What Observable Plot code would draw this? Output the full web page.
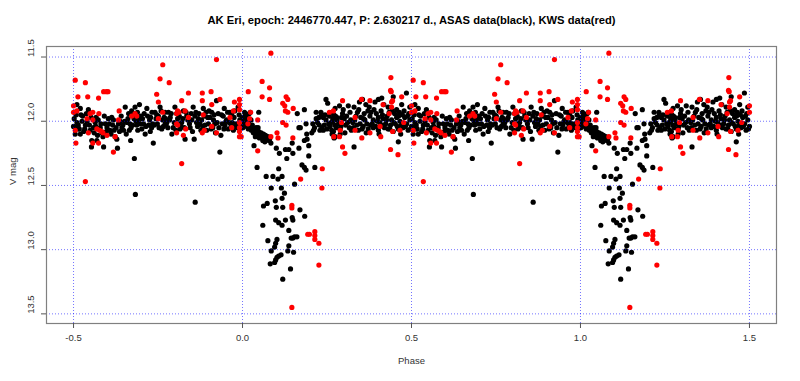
<!DOCTYPE html>
<html><head><meta charset="utf-8">
<script src="https://cdn.jsdelivr.net/npm/d3@7"></script>
<script src="https://cdn.jsdelivr.net/npm/@observablehq/plot@0.6"></script>
<style>
html,body{margin:0;padding:0;background:#fff;}
#chart{width:800px;height:381px;}
</style></head><body><div id="chart"></div>
<script>
const title = "AK Eri, epoch: 2446770.447, P: 2.630217 d., ASAS data(black), KWS data(red)";
const xLabel = "Phase";
const yLabel = "V mag";
const xTicks = [-0.5, 0, 0.5, 1, 1.5];
const yTicks = [11.5, 12, 12.5, 13, 13.5];

// ASAS (black): [phase, V mag], phase in [0,1)
const asas = [
[0.000,11.97],[0.003,12.01],[0.005,11.99],[0.007,12.03],[0.009,11.95],[0.011,12.00],[0.013,12.04],[0.015,11.98],[0.018,12.02],[0.020,11.94],[0.022,12.05],[0.023,11.93],[0.026,12.07],[0.029,12.03],[0.032,12.09],[0.034,12.19],[0.036,12.08],[0.040,12.05],[0.043,12.36],[0.044,12.10],[0.048,12.08],[0.048,11.93],[0.052,12.11],[0.055,12.09],[0.058,12.12],[0.060,12.15],[0.064,12.13],[0.068,12.11],[0.071,12.14],[0.075,12.12],[0.078,12.15],[0.080,12.14],[0.084,12.17],
[0.001,12.05],[0.006,11.93],[0.012,11.96],[0.017,12.06],[0.025,11.99],[0.030,12.06],[0.038,12.12],[0.046,12.05],[0.050,12.13],[0.062,12.10],[0.066,12.16],
[0.070,12.43],[0.085,12.52],[0.090,12.43],[0.100,12.21],[0.105,12.45],[0.107,12.37],[0.109,12.25],[0.115,12.52],[0.117,12.43],[0.127,12.22],[0.131,12.29],[0.137,12.22],[0.147,12.17],[0.149,12.25],[0.154,12.49],[0.124,12.56],[0.117,12.60],[0.097,12.62],[0.073,12.64],[0.062,12.66],[0.100,12.67],[0.119,12.67],[0.170,12.69],[0.184,12.74],[0.147,12.75],[0.149,12.77],[0.060,12.81],[0.098,12.77],[0.107,12.79],[0.127,12.77],[0.117,12.81],[0.137,12.85],[0.149,12.91],[0.154,12.90],[0.161,12.90],[0.144,12.91],[0.075,12.93],[0.098,12.95],[0.102,12.92],[0.095,12.98],[0.085,13.01],[0.137,12.97],[0.134,13.01],[0.151,13.02],[0.102,13.06],[0.107,13.05],[0.114,13.04],[0.098,13.08],[0.082,13.11],[0.095,13.10],[0.142,13.15],[0.119,13.23],
[0.162,11.94],[0.167,12.05],[0.171,12.05],[0.167,12.21],[0.176,12.34],[0.183,12.36],[0.188,12.38],[0.183,12.15],[0.191,12.14],[0.190,12.10],[0.188,12.02],[0.183,11.91],[0.196,12.27],[0.196,12.19],[0.214,12.36],[0.210,12.07],[0.213,12.05],[0.208,12.02],[0.218,11.98],[0.226,11.97],[0.232,11.96],[0.247,11.83],[0.252,11.86],[0.218,11.93],[0.222,12.01],[0.227,12.03],[0.235,12.05],[0.239,12.07],[0.242,12.03],[0.247,11.99],[0.255,12.02],[0.262,12.01],[0.267,11.98],[0.273,12.03],[0.239,11.97],[0.257,11.96],[0.269,12.08],[0.275,11.96],[0.232,11.93],
[0.244,11.95],[0.250,12.06],[0.259,12.04],[0.265,12.10],[0.277,12.05],[0.229,12.07],[0.205,12.09],
[0.264,11.93],[0.274,11.90],[0.287,11.88],[0.298,11.91],[0.313,11.88],[0.330,11.89],[0.346,11.85],[0.355,11.83],[0.365,11.87],[0.375,11.89],[0.392,11.85],[0.402,11.83],[0.412,11.82],[0.418,11.87],[0.431,11.89],[0.446,11.81],[0.456,11.91],[0.471,11.87],[0.485,11.78],[0.495,11.89],[0.510,11.87],[0.520,11.90],
[0.267,12.00],[0.279,11.97],[0.293,11.97],[0.308,11.96],[0.320,11.99],[0.336,11.96],[0.350,11.97],[0.362,11.99],[0.377,11.96],[0.387,11.99],[0.402,11.97],[0.416,11.98],[0.428,11.96],[0.441,11.99],[0.456,11.97],[0.466,12.00],[0.480,11.97],[0.495,11.99],[0.510,12.01],
[0.264,12.07],[0.274,12.12],[0.289,12.06],[0.303,12.09],[0.316,12.05],[0.328,12.05],[0.343,12.07],[0.357,12.04],[0.372,12.06],[0.387,12.05],[0.402,12.07],[0.416,12.03],[0.431,12.06],[0.446,12.08],[0.461,12.06],[0.475,12.05],[0.490,12.07],[0.505,12.10],[0.517,12.06],
[0.330,12.20],[0.461,12.16],[0.289,12.10],[0.271,12.13],
[0.270,11.95],[0.284,12.02],[0.296,11.94],[0.305,12.03],[0.318,11.93],[0.326,12.01],[0.340,11.93],[0.348,12.02],[0.360,11.94],[0.368,12.02],[0.380,11.93],[0.384,12.02],[0.396,11.94],[0.406,12.01],[0.410,11.92],[0.424,12.02],[0.434,11.93],[0.438,12.03],[0.450,11.94],[0.452,12.02],[0.464,11.93],[0.470,12.03],[0.478,11.92],[0.486,12.02],[0.492,11.94],[0.500,12.04],[0.504,11.93],[0.514,12.03],[0.522,11.95],
[0.280,11.99],[0.291,12.04],[0.301,11.98],[0.311,12.01],[0.322,12.07],[0.332,11.99],[0.338,12.03],[0.344,11.91],[0.354,12.06],[0.358,11.98],[0.366,12.09],[0.371,11.92],[0.379,12.03],[0.389,11.91],[0.394,12.04],[0.399,12.00],[0.404,12.10],[0.414,11.95],[0.420,12.05],[0.426,11.99],[0.436,12.06],[0.443,11.92],[0.448,12.01],[0.458,12.04],[0.462,11.96],[0.468,12.10],[0.473,11.95],[0.482,12.04],[0.488,11.96],[0.497,12.06],[0.502,11.98],[0.508,11.95],[0.512,12.04],
[0.515,12.06],[0.525,12.00],[0.535,12.03],[0.544,11.91],[0.549,12.07],[0.554,12.15],[0.564,12.01],[0.571,12.11],[0.579,12.05],[0.589,12.20],[0.594,12.02],[0.603,11.98],[0.608,12.07],[0.616,12.03],[0.623,12.12],[0.630,12.21],[0.633,12.02],[0.643,12.05],[0.653,11.89],[0.658,12.01],[0.665,12.07],[0.669,12.15],[0.672,11.92],[0.679,11.98],[0.680,12.29],[0.687,12.03],[0.695,11.87],[0.699,11.96],[0.707,12.02],[0.712,12.10],[0.717,11.90],[0.725,11.99],[0.731,12.05],[0.736,12.17],[0.741,11.93],[0.748,12.02],[0.756,11.89],[0.761,12.06],[0.768,11.97],[0.774,12.02],
[0.520,12.10],[0.530,12.08],[0.540,12.00],[0.559,12.05],[0.567,11.97],[0.584,12.09],[0.599,12.05],[0.613,11.97],[0.620,12.07],[0.638,12.00],[0.648,12.07],[0.663,11.94],[0.675,12.03],[0.682,11.89],[0.692,11.99],[0.702,12.06],[0.709,11.94],[0.722,12.03],[0.728,11.97],[0.734,12.02],[0.744,11.98],[0.751,11.96],[0.764,11.99],[0.771,11.93],[0.667,12.02],[0.690,12.07],[0.628,12.14],[0.569,12.15],[0.553,12.20],
[0.527,11.96],[0.533,12.06],[0.538,11.94],[0.547,12.03],[0.552,11.97],[0.561,12.09],[0.566,12.04],[0.573,11.99],[0.581,12.02],[0.587,12.12],[0.591,11.96],[0.597,12.08],[0.606,12.02],[0.611,12.10],[0.618,11.99],[0.626,12.05],[0.636,12.08],[0.641,11.96],[0.646,12.03],[0.651,12.00],[0.656,12.10],[0.661,11.98],[0.670,12.05],[0.677,11.94],[0.685,12.00],[0.689,11.93],[0.697,12.02],[0.704,11.98],[0.714,12.04],[0.719,11.96],[0.727,12.08],[0.732,11.93],[0.739,12.03],[0.746,11.95],[0.753,12.05],[0.759,11.92],[0.766,12.04],[0.772,11.98],
[0.771,12.02],[0.781,11.93],[0.791,12.10],[0.800,11.89],[0.808,11.98],[0.815,12.06],[0.825,11.92],[0.830,12.14],[0.838,11.99],[0.845,12.05],[0.854,11.89],[0.857,12.14],[0.864,12.01],[0.871,11.94],[0.877,12.07],[0.884,11.90],[0.889,12.03],[0.897,11.97],[0.901,11.92],[0.907,12.06],[0.914,11.99],[0.920,12.09],[0.923,11.84],[0.928,11.94],[0.933,12.24],[0.936,12.11],[0.940,12.02],[0.946,11.90],[0.953,11.99],[0.958,12.06],[0.963,11.93],[0.970,12.01],[0.975,11.97],[0.979,12.04],[0.987,11.89],[0.992,11.99],[0.997,12.05],
[0.776,12.01],[0.786,11.97],[0.795,12.05],[0.805,11.94],[0.820,12.01],[0.835,11.96],[0.850,11.99],[0.859,11.96],[0.874,12.02],[0.887,11.96],[0.894,12.07],[0.909,11.93],[0.918,12.02],[0.930,12.05],[0.943,11.96],[0.956,11.93],[0.966,12.03],[0.982,12.02],[0.810,12.02],[0.879,11.99],[0.948,12.03],
[0.779,12.05],[0.784,11.99],[0.789,11.94],[0.798,12.01],[0.803,12.07],[0.813,11.96],[0.818,12.04],[0.823,11.98],[0.828,12.05],[0.833,11.93],[0.843,12.02],[0.848,11.94],[0.852,12.08],[0.862,11.93],[0.867,12.04],[0.869,11.98],[0.882,12.04],[0.892,11.93],[0.899,12.02],[0.904,11.97],[0.912,12.05],[0.916,11.95],[0.925,12.01],[0.938,11.95],[0.945,12.06],[0.951,12.00],[0.961,12.01],[0.968,11.95],[0.973,12.07],[0.977,11.92],[0.985,12.05],[0.990,11.95],[0.995,12.02],
[0.683,12.57],[0.860,12.63]
];

// KWS (red): [phase, V mag]
const kws = [
[0.084,11.47],[0.058,11.69],[0.080,11.74],[0.017,11.77],[0.058,11.81],[0.080,11.83],[0.129,11.81],[0.134,11.83],[0.119,11.86],[0.125,11.88],[0.127,11.92],[0.134,11.93],[0.150,11.90],[0.991,11.83],[0.991,11.87],[0.991,11.91],[0.024,11.93],[0.021,11.98],[0.045,11.99],[0.016,12.02],[0.991,12.01],[0.991,12.05],[0.991,12.08],[0.991,12.12],[0.996,12.12],[0.119,12.01],[0.129,12.03],[0.102,12.09],[0.105,12.13],[0.084,12.12],[0.149,12.13],[0.045,12.23],[0.236,12.37],[0.172,12.45],[0.235,12.52],[0.257,11.93],[0.269,11.92],[0.270,12.12],
[0.146,12.655],[0.146,12.675],[0.193,12.88],[0.198,12.88],[0.214,12.86],[0.214,12.89],[0.214,12.92],[0.226,12.95],[0.226,13.12],[0.146,13.45],
[0.439,11.66],[0.438,11.76],[0.440,11.77],[0.471,11.81],[0.444,11.84],[0.441,11.85],[0.296,11.84],[0.352,11.83],[0.377,11.84],[0.416,11.87],[0.505,11.68],[0.513,11.81],[0.510,11.92],[0.500,11.93],[0.293,12.01],[0.333,11.97],[0.289,12.07],[0.333,12.07],[0.287,12.12],[0.353,12.13],[0.377,12.09],[0.409,12.12],[0.407,12.04],[0.444,12.08],[0.466,12.07],[0.477,12.01],[0.505,12.07],[0.296,12.20],[0.303,12.25],[0.438,12.22],[0.460,12.26],[0.507,12.17],[0.500,11.88],[0.441,11.89],[0.434,11.94],
[0.764,11.56],[0.756,11.67],[0.746,11.79],[0.751,11.85],[0.764,11.93],[0.751,11.98],[0.535,11.70],[0.542,11.81],[0.574,11.82],[0.589,11.77],[0.597,11.77],[0.602,11.77],[0.635,11.92],[0.557,11.93],[0.549,11.94],[0.575,11.94],[0.540,11.98],[0.557,11.99],[0.633,11.99],[0.682,11.94],[0.687,11.96],[0.569,12.06],[0.577,12.07],[0.584,12.08],[0.587,12.09],[0.544,12.09],[0.599,12.11],[0.623,12.12],[0.557,12.17],[0.574,12.17],[0.618,12.24],[0.535,12.47],[0.672,11.96],
[0.923,11.52],[0.783,11.70],[0.840,11.78],[0.881,11.78],[0.907,11.77],[0.881,11.84],[0.820,11.84],[0.933,11.83],[0.909,11.87],[0.976,11.85],[0.808,11.92],[0.812,11.93],[0.805,11.94],[0.830,11.92],[0.884,11.95],[0.973,11.92],[0.840,11.97],[0.963,11.97],[0.805,12.02],[0.808,12.03],[0.832,12.06],[0.968,12.05],[0.887,12.07],[0.909,12.04],[0.805,12.09],[0.825,12.11],[0.881,12.09],[0.923,12.09],[0.820,12.33]
];

// The phase diagram shows each observation at phase p and p±1 within [-0.5, 1.5]
function unfold(data) {
  const out = [];
  for (const [p, m] of data) for (const k of [-1, 0, 1]) {
    const q = p + k;
    if (q >= -0.5 && q <= 1.5) out.push({phase: q, mag: m});
  }
  return out;
}

const font = "'Liberation Sans', Arial, sans-serif";
const chart = Plot.plot({
  width: 800, height: 381,
  marginTop: 46, marginRight: 24, marginBottom: 58, marginLeft: 46,
  style: {fontFamily: font, background: "#fff", color: "#222"},
  x: {domain: [-0.58, 1.58]},
  y: {domain: [11.418, 13.575], reverse: true},
  marks: [
    Plot.dot(unfold(asas), {x: "phase", y: "mag", r: 2.6, fill: "black"}),
    Plot.dot(unfold(kws), {x: "phase", y: "mag", r: 2.6, fill: "#ff0000"}),
    Plot.gridX(xTicks, {stroke: "#0000ff", strokeOpacity: 0.55, strokeDasharray: "1,2"}),
    Plot.gridY(yTicks, {stroke: "#0000ff", strokeOpacity: 0.55, strokeDasharray: "1,2"}),
    Plot.frame({stroke: "#808080", strokeWidth: 1.2}),
    Plot.axisX({ticks: xTicks, tickSize: 5, tickPadding: 6, tickFormat: d => d.toFixed(1), fontSize: 9.5, stroke: "#555", fill: "#333", label: null}),
    Plot.axisY({ticks: yTicks, tickSize: 5, tickFormat: () => "", stroke: "#555", label: null}),
    Plot.text(yTicks, {y: d => d, text: d => d.toFixed(1), frameAnchor: "left", dx: -16, rotate: -90, fontSize: 9.5, fill: "#333"}),
    Plot.text([title], {frameAnchor: "top", dy: -30, fontSize: 11.2, fontWeight: "bold", fill: "#000"}),
    Plot.text([xLabel], {frameAnchor: "bottom", dy: 40, fontSize: 9.5, fill: "#333"}),
    Plot.text([yLabel], {frameAnchor: "left", dx: -34, rotate: -90, fontSize: 9.5, fill: "#333"})
  ]
});
document.getElementById("chart").appendChild(chart);
</script></body></html>
